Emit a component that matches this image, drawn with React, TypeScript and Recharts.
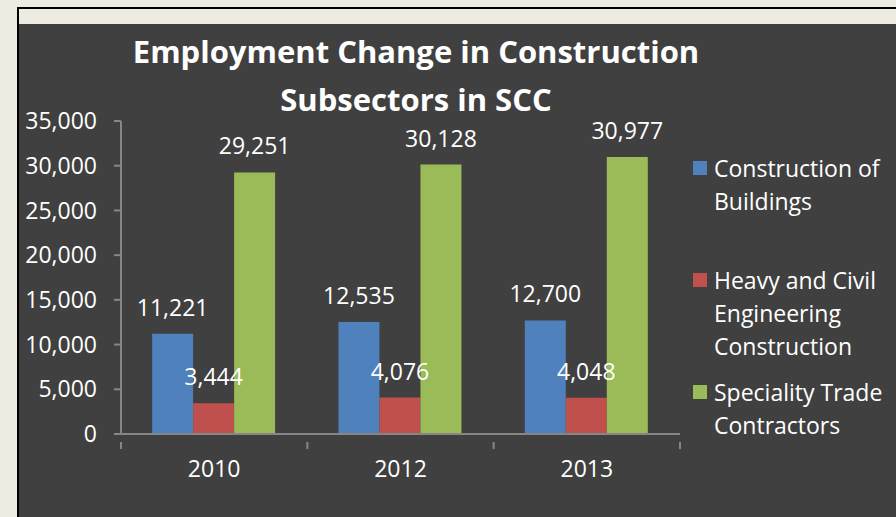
import React from "react";
import { BarChart, Bar, XAxis, YAxis, LabelList } from "recharts";

const years = ["2010", "2012", "2013"];
const buildings = [11221, 12535, 12700];
const heavyCivil = [3444, 4076, 4048];
const specialityTrade = [29251, 30128, 30977];
const yTicks = [0, 5000, 10000, 15000, 20000, 25000, 30000, 35000];

const seriesNames = [
  "Construction of Buildings",
  "Heavy and Civil Engineering Construction",
  "Speciality Trade Contractors",
];
const colors = ["#4F81BD", "#C0504D", "#9BBB59"];

const data = years.map((year, i) => ({
  year,
  buildings: buildings[i],
  heavyCivil: heavyCivil[i],
  specialityTrade: specialityTrade[i],
}));

const FONT = "'Open Sans', sans-serif";
const FS = 23;
const W = 896;
const H = 517;
const PLOT_LEFT = 121;
const PLOT_RIGHT = 680;
const BAND = (PLOT_RIGHT - PLOT_LEFT) / years.length;
const AXIS_COLOR = "#868686";

const fmt = (v: number) => v.toLocaleString("en-US");

const YearTick = (props: any) => {
  const { x, y, payload, index } = props;
  const last = index === years.length - 1;
  return (
    <g>
      <line x1={x - BAND / 2} y1={y} x2={x - BAND / 2} y2={y + 7} stroke={AXIS_COLOR} strokeWidth={2} />
      {last && (
        <line x1={x + BAND / 2} y1={y} x2={x + BAND / 2} y2={y + 7} stroke={AXIS_COLOR} strokeWidth={2} />
      )}
      <text x={x} y={y + 35} textAnchor="middle" fill="#ffffff" fontSize={FS} fontFamily={FONT}>
        {payload.value}
      </text>
    </g>
  );
};

const legendGaps = [0, 46, 13];

const LegendBox = () => (
  <div
    style={{
      position: "absolute",
      left: 693,
      top: 152,
      fontFamily: FONT,
      fontSize: FS,
      color: "#ffffff",
      lineHeight: "33px",
      width: 200,
    }}
  >
    {seriesNames.map((name, i) => (
      <div key={name} style={{ display: "flex", marginTop: legendGaps[i] }}>
        <div
          style={{
            width: 14,
            height: 14,
            background: colors[i],
            marginTop: 9,
            marginRight: 7,
            flexShrink: 0,
          }}
        />
        <div style={{ width: 182 }}>{name}</div>
      </div>
    ))}
  </div>
);

export default function App() {
  return (
    <div style={{ position: "absolute", left: 0, top: 0, width: W, height: H, background: "#EEECE1", overflow: "hidden" }}>
      <div
        style={{
          position: "absolute",
          left: 17,
          top: 7,
          right: 0,
          bottom: 0,
          borderLeft: "2px solid #000",
          borderTop: "2px solid #000",
        }}
      />
      <div style={{ position: "absolute", left: 19, top: 24, right: 0, bottom: 0, background: "#404040" }} />
      <div
        style={{
          position: "absolute",
          left: 116,
          width: 600,
          top: 27,
          textAlign: "center",
          color: "#ffffff",
          fontFamily: FONT,
          fontWeight: "bold",
          fontSize: 31,
          lineHeight: "48px",
        }}
      >
        Employment Change in Construction
        <br />
        Subsectors in SCC
      </div>
      <div style={{ position: "absolute", left: 0, top: 0 }}>
        <BarChart
          width={W}
          height={H}
          data={data}
          margin={{ top: 121, right: W - PLOT_RIGHT, bottom: 53, left: 21 }}
          barCategoryGap="16.7%"
          barGap={0}
        >
          <XAxis
            dataKey="year"
            stroke={AXIS_COLOR}
            strokeWidth={2}
            tickLine={false}
            tick={<YearTick />}
            height={30}
            interval={0}
          />
          <YAxis
            domain={[0, 35000]}
            ticks={yTicks}
            tickFormatter={fmt}
            width={100}
            stroke={AXIS_COLOR}
            strokeWidth={2}
            tickSize={7}
            tickMargin={17}
            tick={{ fill: "#ffffff", fontSize: FS, fontFamily: FONT }}
            interval={0}
          />
          <Bar dataKey="buildings" name={seriesNames[0]} fill={colors[0]} isAnimationActive={false}>
            <LabelList dataKey="buildings" position="top" offset={18} formatter={fmt} fill="#ffffff" fontSize={FS} fontFamily={FONT} />
          </Bar>
          <Bar dataKey="heavyCivil" name={seriesNames[1]} fill={colors[1]} isAnimationActive={false}>
            <LabelList dataKey="heavyCivil" position="top" offset={18} formatter={fmt} fill="#ffffff" fontSize={FS} fontFamily={FONT} />
          </Bar>
          <Bar dataKey="specialityTrade" name={seriesNames[2]} fill={colors[2]} isAnimationActive={false}>
            <LabelList dataKey="specialityTrade" position="top" offset={18} formatter={fmt} fill="#ffffff" fontSize={FS} fontFamily={FONT} />
          </Bar>
        </BarChart>
      </div>
      <LegendBox />
    </div>
  );
}
